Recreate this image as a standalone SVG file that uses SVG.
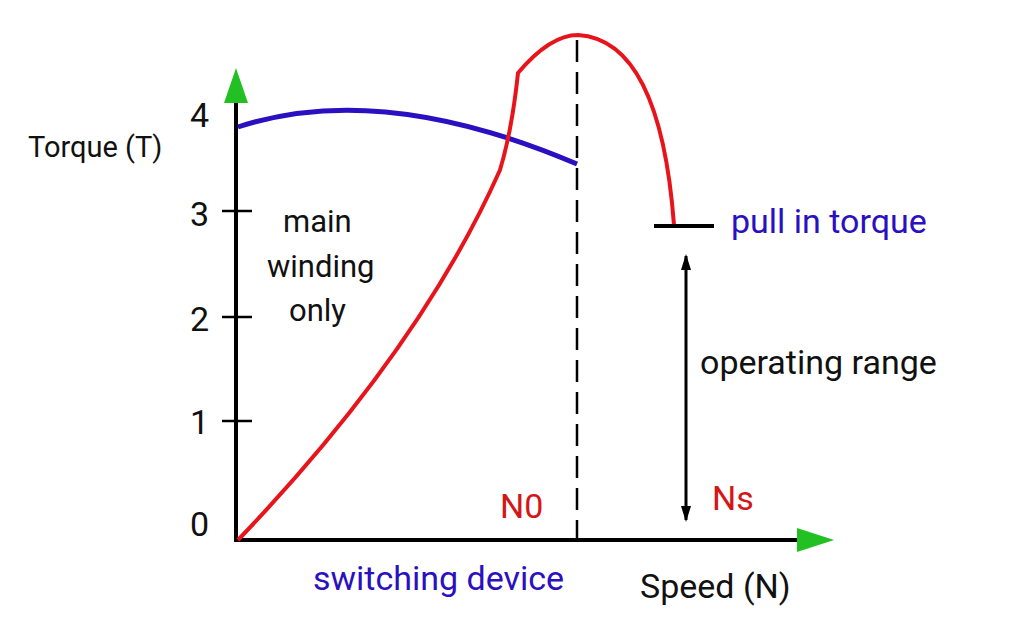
<svg xmlns="http://www.w3.org/2000/svg" width="1024" height="618" viewBox="0 0 1024 618">
<style>
text{font-family:Roboto,"Liberation Sans",sans-serif;font-size:34px;fill:#111}
.ax{stroke:#000;stroke-width:4;fill:none}
.red{stroke:#e8141c;stroke-width:4;fill:none}
.blue{stroke:#2a10c0;stroke-width:5;fill:none}
.r{fill:#d41616}.b{fill:#2a10c0}
</style>
<defs>
<marker id="k" markerWidth="16" markerHeight="16" refX="14" refY="8" orient="auto-start-reverse" markerUnits="userSpaceOnUse" viewBox="0 0 16 16"><path d="M0,3L16,8L0,13z" fill="#000"/></marker>
</defs>
<rect width="1024" height="618" fill="#fff"/>
<g id="axes">
<line class="ax" x1="236" y1="542" x2="236" y2="100"/>
<path d="M224,103L236,68L248,103z" fill="#22c022"/>
<line class="ax" x1="234" y1="540" x2="800" y2="540"/>
<path d="M797,528L834,540L797,552z" fill="#22c022"/>
<g stroke="#000" stroke-width="2.5">
<line x1="222" y1="211" x2="252" y2="211"/><line x1="222" y1="317" x2="252" y2="317"/><line x1="222" y1="421" x2="252" y2="421"/>
</g>
<text x="190" y="536">0</text><text x="190" y="434">1</text><text x="190" y="331">2</text><text x="190" y="226">3</text><text x="190" y="127">4</text>
<text x="28" y="157" style="font-size:29px">Torque (T)</text>
<text x="640" y="598">Speed (N)</text>
</g>
<g id="curves">
<line x1="577" y1="40" x2="577" y2="540" stroke="#000" stroke-width="2.5" stroke-dasharray="22,10"/>
<path class="blue" d="M238,127 Q380,80 577,164"/>
<path class="red" d="M238,540 Q420,350 500,170 Q512,130 518,73 Q550,35 578,35 Q660,40 674,225"/>
<line x1="654" y1="226" x2="714" y2="226" stroke="#000" stroke-width="4"/>
<line x1="686" y1="256" x2="686" y2="520" stroke="#000" stroke-width="3" marker-start="url(#k)" marker-end="url(#k)"/>
</g>
<g id="labels">
<text x="283" y="232" style="font-size:31px">main</text><text x="267" y="277" style="font-size:31px">winding</text><text x="289" y="321" style="font-size:31px">only</text>
<text x="731" y="233" class="b">pull in torque</text>
<text x="700" y="374">operating range</text>
<text x="500" y="518" class="r">N0</text>
<text x="712" y="510" class="r">Ns</text>
<text x="313" y="590" class="b">switching device</text>
</g>
</svg>
